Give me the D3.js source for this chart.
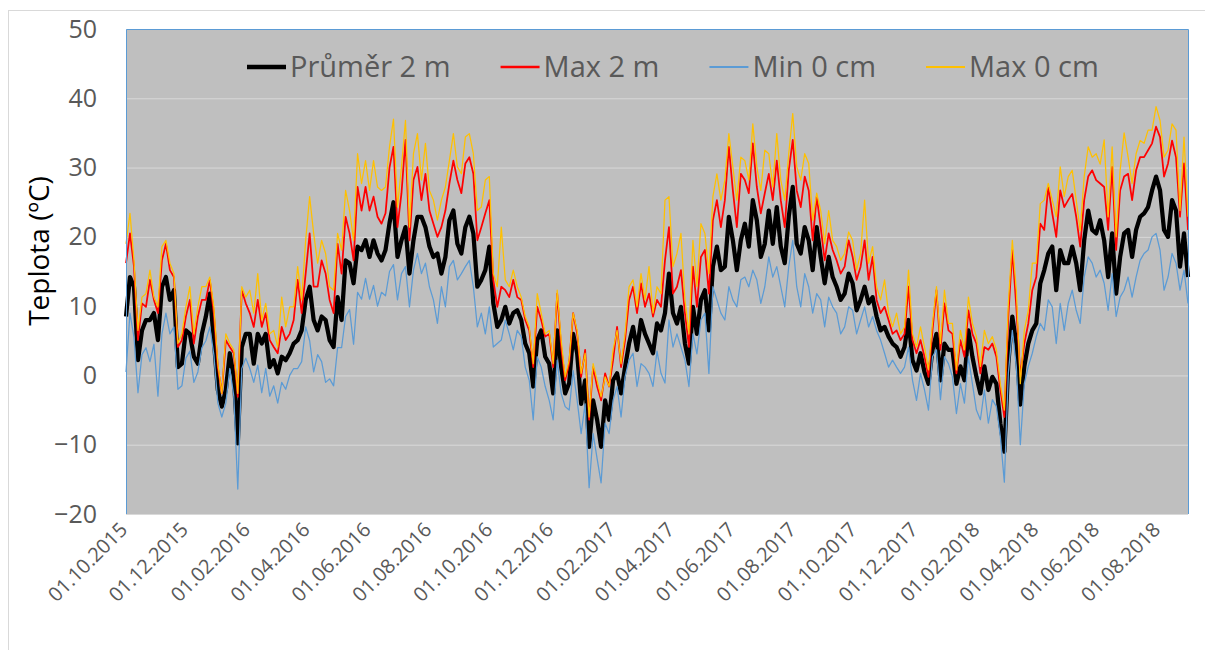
<!DOCTYPE html>
<html>
    <head>
        <meta charset="utf-8">
        <title>Teplota</title>
    </head>
    <body style="margin:0; background:#fff;">
        <style>
            svg text {
                font-family: "Open Sans", sans-serif;
            }
        </style>
        <svg id="chart" width="1205" height="650"></svg>
        <script src="https://cdnjs.cloudflare.com/ajax/libs/d3/7.8.5/d3.min.js" charset="utf-8"></script>

        <script>

        // first day of the series, one reading every 4 days
        var startDate = "01.10.2015";
        var stepDays = 4;

        var prumer2m = [
            8.5, 14.2, 12.8, 2.2, 6.5, 8, 8, 9, 5.1, 12.8,
            14.2, 10.9, 12.3, 1.2, 1.7, 6.5, 6, 2.7, 1.7, 6,
            8.5, 11.8, 5.1, -2.1, -4.5, -2.1, 3.2, -0.2, -9.8, 4.1,
            6, 6, 1.7, 6, 4.6, 6, 1.2, 2.2, 0.3, 2.7,
            2.2, 3.2, 4.6, 5.1, 6.5, 10.9, 12.8, 8, 6.5, 8.5,
            8, 5.1, 4.1, 11.3, 8, 16.6, 16.2, 13.3, 18.6, 18.1,
            19.5, 17.1, 19.5, 17.6, 16.6, 18.1, 22, 25, 17.1, 19.5,
            21.4, 14.7, 19.5, 22.9, 22.9, 21.4, 18.6, 17.1, 17.6, 14.7,
            17.1, 22.4, 23.8, 19, 17.6, 21.4, 22.9, 20.5, 12.8, 13.8,
            15.2, 18.6, 10.4, 7, 8, 9.9, 7.5, 9, 9.4, 8,
            4.6, 3.2, -1.6, 5.1, 6.5, 2.7, 1.7, -2.6, 6.5, 1.2,
            -2.6, -1.1, 6, 3.2, -4.1, -0.7, -10.3, -3.6, -6.4, -10.3,
            -3.6, -6.4, -0.7, 0.3, -2.6, 1.2, 4.6, 7, 3.7, 8,
            6, 4.6, 3.2, 7.5, 6.5, 9, 14.7, 9, 7.5, 9.9,
            4.6, 1.7, 9.9, 6, 10.9, 12.3, 6.5, 15.7, 18.6, 15.2,
            15.7, 22.9, 19.5, 15.2, 19.5, 21.9, 18.6, 25.3, 22.4, 17.1,
            19, 23.8, 19, 24.3, 18.6, 16.2, 22.9, 27.2, 19, 17.6,
            21.4, 19.5, 15.2, 21.4, 17.1, 13.3, 17.1, 14.2, 12.8, 10.9,
            11.8, 14.7, 13.3, 9.4, 10.9, 12.8, 10.4, 11.3, 8.5, 6.5,
            7, 5.6, 4.6, 4.1, 2.7, 4.1, 8, 2.2, 0.7, 3.2,
            0.5, -1.2, 3.7, 6, -0.7, 4.6, 3.7, 3.7, -1.2, 1.3,
            -0.7, 6.5, 2.7, -0.2, -2.6, 1.3, -2.1, -0.2, -1.2, -6.9,
            -11, 1.7, 8.5, 4.6, -4.2, 1.3, 4.6, 6.5, 7.5, 13.3,
            15.2, 17.6, 18.6, 12.3, 18.1, 16.2, 16.2, 18.6, 16.2, 12.3,
            19.5, 23.8, 21, 20.5, 22.4, 19.5, 14.2, 20.5, 11.8, 17.1,
            20.5, 21, 17.1, 21, 22.9, 23.4, 24.3, 26.7, 28.7, 26.7,
            21, 20, 25.3, 23.8, 15.7, 20.5, 14.2
        ];

        var max2m = [
            16.2, 20.5, 15.7, 5.1, 10.4, 9.9, 13.8, 10.9, 9, 16.6,
            19, 15.2, 14.2, 4.1, 5.1, 8.5, 10.9, 4.6, 8.5, 10.9,
            10.9, 13.8, 9, 1.2, -2.6, 5.1, 4.1, 3.2, -3.1, 12.3,
            10.4, 9, 7, 10.9, 7, 9, 5.1, 4.1, 3.2, 7,
            5.1, 6, 8, 13.8, 9, 14.7, 20.5, 12.8, 12.8, 16.6,
            14.7, 10.9, 9, 19, 14.7, 22.9, 20.5, 16.6, 27.2, 23.8,
            27.2, 23.8, 25.8, 22.9, 21.9, 23.4, 30, 33, 21.4, 26.3,
            34, 19.5, 28.2, 30.1, 25.3, 29.1, 23.8, 21.9, 20, 21.4,
            23.8, 27.7, 31, 28.2, 26.3, 30.6, 31.5, 29.1, 19.5, 21.4,
            23.4, 25.3, 13.8, 9.9, 12.8, 12.3, 11.3, 13.8, 11.3, 10.9,
            8, 6.5, 1.2, 9.9, 8, 5.6, 6, 1.2, 11.8, 4.1,
            -0.7, 1.7, 9, 6, -0.2, 3.7, -6.4, 1.2, -1.6, -3.6,
            0.3, -1.6, 2.2, 7, 1.2, 5.1, 10.9, 12.8, 9, 13.3,
            9.9, 11.8, 8.5, 10.9, 9.9, 16.6, 21.4, 11.8, 12.8, 15.2,
            9, 4.1, 15.7, 9.9, 17.1, 18.1, 11.8, 22.4, 25.3, 21.4,
            25.3, 33, 26.7, 21.4, 29.1, 28.2, 26.3, 33.5, 27.2, 23.4,
            26.3, 29.1, 25.3, 31, 25.3, 21.4, 29.6, 34, 26.7, 24.3,
            28.7, 26.7, 19.5, 25.8, 21.4, 16.6, 20.5, 18.1, 16.6, 14.7,
            15.7, 19.5, 17.1, 13.8, 15.7, 19.5, 13.8, 17.1, 10.9, 9,
            9.9, 8, 6, 6.5, 5.1, 6, 12.8, 5.1, 3.2, 5.1,
            2.7, -0.2, 6.5, 12.3, 3.7, 10.4, 6.5, 6, 0.3, 5.1,
            2.7, 9.4, 6, 4.6, 0.3, 4.1, 3.7, 4.6, 2.7, -2.1,
            -6, 8.5, 18.1, 9.9, -0.2, 4.6, 7.5, 12.3, 14.2, 21.9,
            21, 27.2, 23.4, 20, 26.7, 24.3, 25.3, 26.2, 22.9, 18.6,
            25.3, 28.7, 29.6, 28.2, 27.7, 27.2, 21, 30.1, 18.1, 26.7,
            28.7, 29.1, 25.3, 29.6, 31.5, 31.5, 32.5, 33.5, 35.9, 34.4,
            28.7, 30.6, 33.9, 31.5, 22.9, 30.6, 21
        ];

        var min0cm = [
            0.5, 9, 5.5, -2.5, 3, 4, 2, 4.5, -3, 6,
            9, 6, 7, -2, -1.5, 2.5, 3.5, -1, 0.5, 4,
            5, 7, 3, -4, -6, -4, 1, -3, -16.4, 1,
            2.5, 1, -1, 1.5, -2.5, 1, -3, -1.5, -4, -1,
            -2, 0, 1, 1, 2, 7, 5, 0.5, 3, 2,
            -1, -0.5, -1.5, 4, 4, 8.5, 9.5, 4.5, 12, 11,
            14, 11, 13, 10, 12, 11.5, 15, 16, 10.9, 14.7,
            15.7, 9.9, 15.2, 17.6, 14.7, 16.2, 12.8, 10.9, 7.5, 12.8,
            9.9, 15.7, 16.6, 13.8, 14.7, 15.7, 16.6, 12.8, 7, 9,
            6, 9.9, 4.1, 4.6, 5.1, 8, 6, 3.7, 6.5, 5.6,
            1.2, -0.7, -6.4, 2.7, 1.2, -1.6, -3.6, -6.4, 2.2, -2.6,
            -4.5, -5, 0.7, -3.6, -8.4, -4.1, -16.2, -8.4, -12, -15.5,
            -6.9, -8.4, -3.6, -1.6, -6, -0.2, 2.2, 3.2, -1.6, 1.7,
            1.2, 0.3, -1.6, 3.5, 0.3, -1.1, 8, 4.1, 6, 4.1,
            2.2, -1.6, 6, 3.1, 8, 9, 0.3, 12.8, 10.9, 9,
            8, 12.8, 10.9, 9.9, 13.8, 14.2, 12.8, 15.2, 13.8, 10.4,
            12.8, 17.1, 14.2, 15.7, 12.8, 9.9, 15.7, 19.5, 12.8, 9.9,
            14.7, 12.8, 9, 11.8, 10.9, 7, 11.3, 9.9, 9, 6,
            7, 9.9, 9.4, 6, 8, 9.9, 7, 8.5, 6.5, 5.1,
            3.2, 1.2, 2.2, 1.2, 0.3, 1.2, 4.1, -0.7, -3.6, 0.3,
            -2.1, -5, 2.7, 3.7, -3.5, 2.7, 1.7, -0.2, -5.5, -1.2,
            -4, 2.7, -1.2, -5, -6.4, -2.1, -6.9, -3.5, -4.5, -8.8,
            -15.4, 0.3, 6.5, 1.3, -10, -1.2, 1.3, 3.2, 5.6, 7.5,
            6.5, 10.9, 9.9, 4.6, 10.4, 6.5, 10.4, 12.3, 9.4, 7.5,
            14.2, 17.1, 16.2, 14.2, 15.2, 13.3, 9.4, 14.7, 8.5, 11.3,
            12.3, 14.2, 11.3, 14.2, 16.6, 17.6, 18.1, 20, 20.5, 18.1,
            12.3, 14.2, 17.6, 16.2, 12.3, 15.2, 10.4
        ];

        var max0cm = [
            19, 23.4, 16.6, 6.5, 11.3, 11.8, 15.2, 11.3, 9.9, 18.6,
            19.5, 16.2, 14.7, 4.6, 6, 9.9, 12.8, 6, 9.9, 12.8,
            12.8, 14.2, 9.9, 1.7, -2.6, 6, 4.6, 3.7, -2.6, 12.8,
            11.3, 12.3, 9, 14.7, 8, 10.4, 6, 6.5, 4.1, 11.3,
            7, 9.9, 9.9, 15.7, 10.9, 19.5, 25.8, 20.5, 16.2, 19.5,
            17.6, 12.8, 12.3, 20.5, 18.1, 26.7, 23.8, 19.5, 32, 27.7,
            31, 26.7, 31, 27.2, 26.7, 27.2, 33, 37, 24.3, 30.1,
            36.8, 21.4, 32, 34.9, 28.2, 33.5, 26.7, 25.3, 22.4, 25.3,
            27.2, 31, 34.9, 30.1, 29.1, 34.4, 34.9, 32, 23.8, 24.3,
            28.2, 28.7, 14.7, 12.8, 21.4, 13.8, 12.8, 15.2, 12.8, 11.3,
            8.5, 7, 1.7, 11.8, 9, 6, 6.5, 1.7, 12.3, 5.1,
            -0.2, 2.2, 9, 6.5, 0.3, 3.2, -6, 1.7, -0.7, -3.1,
            -0.2, -1.6, 3.7, 6.5, 1.7, 6, 12.8, 13.8, 9.9, 14.7,
            10.9, 15.7, 9, 12.8, 11.8, 25.3, 25.8, 15.7, 17.6, 20.5,
            10.9, 6, 19.5, 12.8, 21.9, 20.5, 14.7, 25.8, 29.1, 25.3,
            28.2, 34.9, 30.1, 25.3, 31.5, 31, 28.2, 36.3, 30.1, 26.7,
            32.5, 32, 27.2, 34.9, 28.2, 25.3, 32, 37.8, 30.1, 28.2,
            32, 30.6, 22.4, 26.3, 23.8, 19, 23.8, 19.5, 18.6, 16.6,
            17.6, 20.7, 19.5, 15.2, 17.6, 25.3, 16.2, 18.6, 12.8, 10.9,
            13.8, 9, 7, 9, 6, 7, 15.2, 6, 4.1, 7,
            4.1, 0.8, 7.5, 12.8, 4.6, 12.3, 7.5, 7.5, 0.8, 6.5,
            3.7, 11.3, 7.5, 5.6, 1.3, 6.5, 4.6, 5.6, 3.7, -1.2,
            -5, 10.4, 19.5, 12.3, -1.2, 6.5, 9.4, 16.2, 16.2, 24.8,
            25.3, 27.7, 25.3, 22.9, 30.1, 25.8, 28.7, 29.6, 25.3, 20.9,
            28.7, 33, 31.5, 32, 30.5, 34, 22.9, 33, 20, 29.6,
            35, 31.5, 27.7, 32, 33.9, 33.5, 35.4, 35.4, 38.8, 36.8,
            31.5, 32.5, 36.3, 35.4, 23.8, 34.4, 22.9
        ];

        var seriesNames = ["Průměr 2 m", "Max 2 m", "Min 0 cm", "Max 0 cm"];
        var seriesColors = ["#000000", "#FF0000", "#5B9BD5", "#FFC000"];

        var xTickLabels = ["01.10.2015", "01.12.2015", "01.02.2016", "01.04.2016", "01.06.2016",
                           "01.08.2016", "01.10.2016", "01.12.2016", "01.02.2017", "01.04.2017",
                           "01.06.2017", "01.08.2017", "01.10.2017", "01.12.2017", "01.02.2018",
                           "01.04.2018", "01.06.2018", "01.08.2018"];
        var yTicks = [-20, -10, 0, 10, 20, 30, 40, 50];

        var plotLeft = 126, plotRight = 1188, plotTop = 29, plotBottom = 514;

        var parseDate = d3.timeParse("%d.%m.%Y");
        var t0 = parseDate(startDate);
        var dates = prumer2m.map(function(d, i) {
            return d3.timeDay.offset(t0, i * stepDays);
        });

        var xScale = d3.scaleTime()
                       .domain([t0, dates[dates.length - 1]])
                       .range([plotLeft, plotRight]);

        var yScale = d3.scaleLinear()
                       .domain([-20, 50])
                       .range([plotBottom, plotTop]);

        var svg = d3.select("#chart");

        // chart frame
        svg.append("rect")
            .attr("x", 8.5)
            .attr("y", 10.5)
            .attr("width", 1210)
            .attr("height", 660)
            .attr("fill", "#fff")
            .attr("stroke", "#D9D9D9");

        // plot area
        svg.append("rect")
            .attr("x", plotLeft)
            .attr("y", plotTop)
            .attr("width", plotRight - plotLeft)
            .attr("height", plotBottom - plotTop)
            .attr("fill", "#BFBFBF");

        // gridlines
        svg.append("g")
            .attr("transform", "translate(" + plotLeft + ",0)")
            .call(d3.axisLeft(yScale).tickValues(yTicks).tickSize(-(plotRight - plotLeft)).tickFormat(""))
            .call(function(g) { g.select(".domain").remove(); })
            .selectAll("line")
            .attr("stroke", "#D9D9D9")
            .attr("stroke-width", 1);

        // y axis labels
        svg.append("g")
            .attr("transform", "translate(" + plotLeft + ",0)")
            .call(d3.axisLeft(yScale).tickValues(yTicks).tickSize(0).tickPadding(29))
            .attr("font-family", "Open Sans")
            .attr("font-size", 25)
            .call(function(g) { g.select(".domain").remove(); })
            .selectAll("text")
            .attr("fill", "#595959");

        // x axis labels
        svg.append("g")
            .attr("transform", "translate(0," + plotBottom + ")")
            .call(d3.axisBottom(xScale)
                    .tickValues(xTickLabels.map(parseDate))
                    .tickSize(0)
                    .tickFormat(d3.timeFormat("%d.%m.%Y")))
            .attr("font-family", "Open Sans")
            .attr("font-size", 20)
            .call(function(g) { g.select(".domain").remove(); })
            .selectAll("text")
            .attr("fill", "#595959")
            .attr("x", 0)
            .attr("y", 0)
            .attr("dy", 0)
            .attr("text-anchor", "end")
            .attr("transform", "translate(2,17) rotate(-45)");

        // series lines
        var seriesData = [prumer2m, max2m, min0cm, max0cm];
        var seriesWidths = [4.25, 1.75, 1.25, 1.25];

        var line = d3.line()
                     .x(function(d, i) { return xScale(dates[i]); })
                     .y(function(d) { return yScale(d); });

        svg.append("g")
            .selectAll("path")
            .data(seriesData)
            .enter()
            .append("path")
            .attr("d", line)
            .attr("fill", "none")
            .attr("stroke", function(d, i) { return seriesColors[i]; })
            .attr("stroke-width", function(d, i) { return seriesWidths[i]; })
            .attr("stroke-linejoin", "round");

        // plot borders
        svg.append("line")
            .attr("x1", plotLeft).attr("x2", plotRight)
            .attr("y1", plotBottom + 0.5).attr("y2", plotBottom + 0.5)
            .attr("stroke", "#D9D9D9");
        svg.append("path")
            .attr("d", "M" + (plotLeft + 0.5) + "," + plotBottom + "V" + (plotTop + 0.5) + "H" + (plotRight + 0.5) + "V" + plotBottom)
            .attr("fill", "none")
            .attr("stroke", "#5B9BD5")
            .attr("stroke-width", 1);

        // y title
        svg.append("text")
            .attr("transform", "translate(49,251) rotate(-90)")
            .attr("text-anchor", "middle")
            .attr("font-size", 28)
            .attr("fill", "#000")
            .text("Teplota (ºC)");

        // legend
        var legend = svg.append("g").attr("font-size", 29);
        var lx = 247;
        var legendWidths = [4.5, 2.5, 2, 2];
        seriesNames.forEach(function(name, i) {
            legend.append("line")
                .attr("x1", lx).attr("x2", lx + 39)
                .attr("y1", 67).attr("y2", 67)
                .attr("stroke", seriesColors[i])
                .attr("stroke-width", legendWidths[i]);
            var t = legend.append("text")
                .attr("x", lx + 43)
                .attr("y", 77)
                .attr("fill", "#595959")
                .text(name);
            lx += 43 + t.node().getComputedTextLength() + 50;
        });

        </script>
    </body>
</html>
